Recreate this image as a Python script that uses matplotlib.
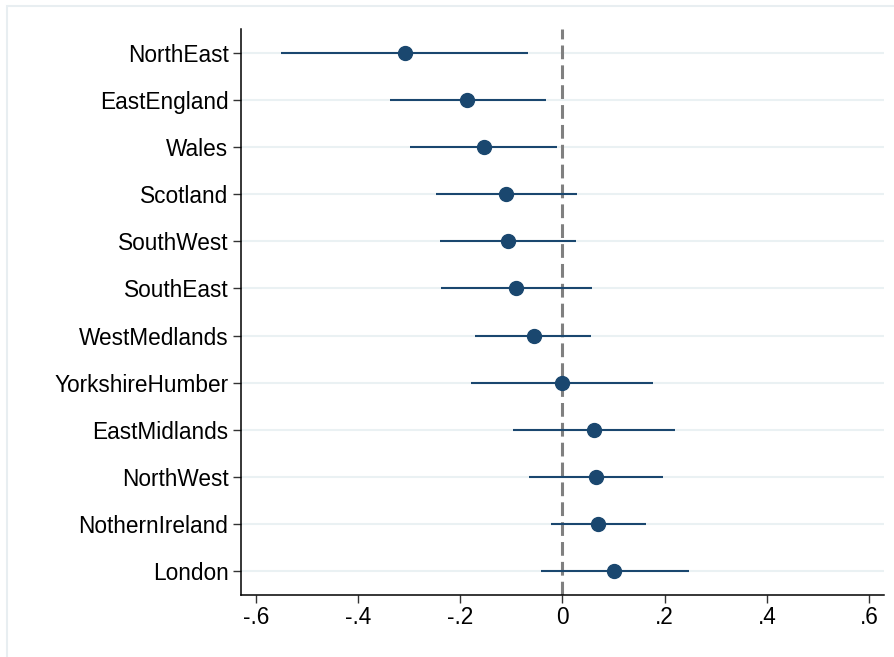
import numpy as np
import matplotlib
matplotlib.use('Agg')
from matplotlib import pyplot as plt
from matplotlib.patches import Rectangle

plt.rcParams['font.family'] = ['Liberation Sans', 'DejaVu Sans']

regions = ['NorthEast', 'EastEngland', 'Wales', 'Scotland', 'SouthWest',
           'SouthEast', 'WestMedlands', 'YorkshireHumber', 'EastMidlands',
           'NorthWest', 'NothernIreland', 'London']
coef = [-0.308, -0.186, -0.154, -0.110, -0.107, -0.090, -0.056, -0.001,
        0.062, 0.065, 0.069, 0.101]
ci_low = [-0.551, -0.337, -0.298, -0.248, -0.239, -0.238, -0.171, -0.179,
          -0.096, -0.065, -0.023, -0.043]
ci_high = [-0.068, -0.032, -0.010, 0.028, 0.026, 0.057, 0.056, 0.177,
           0.220, 0.196, 0.163, 0.248]
xticks = [-0.6, -0.4, -0.2, 0, 0.2, 0.4, 0.6]
xticklabels = ['-.6', '-.4', '-.2', '0', '.2', '.4', '.6']

navy = '#1a476f'

fig = plt.figure(figsize=(8.95, 6.57), dpi=100)
fig.patches.append(Rectangle((7 / 895, -0.1), 1.2, 1 - 6 / 657 + 0.1,
                             transform=fig.transFigure, fill=False,
                             edgecolor='#e8eef1', linewidth=1.5))
ax = fig.add_axes([241 / 895, 62 / 657, 643 / 895, 566 / 657])

ypos = np.arange(1, len(regions) + 1)

for y in ypos:
    ax.axhline(y, color='#eaf1f3', linewidth=1.5, zorder=0)

ax.axvline(0, color='#808080', linewidth=2.2, dashes=(4.5, 2.0), zorder=1)

ax.hlines(ypos, ci_low, ci_high, color=navy, linewidth=1.5, zorder=2)
ax.plot(coef, ypos, 'o', color=navy, markersize=10, zorder=3)

ax.set_xlim(-0.629, 0.629)
ax.set_ylim(12.5, 0.5)
ax.set_yticks(ypos)
ax.set_yticklabels(regions, fontsize=16.3)
ax.set_xticks(xticks)
ax.set_xticklabels(xticklabels, fontsize=16.3)
ax.tick_params(axis='both', length=6, width=1, color='#333333', pad=3)
ax.tick_params(axis='x', pad=2)

for side in ['top', 'right']:
    ax.spines[side].set_visible(False)
for side in ['left', 'bottom']:
    ax.spines[side].set_linewidth(1.1)

fig.savefig('out.png', dpi=100)
